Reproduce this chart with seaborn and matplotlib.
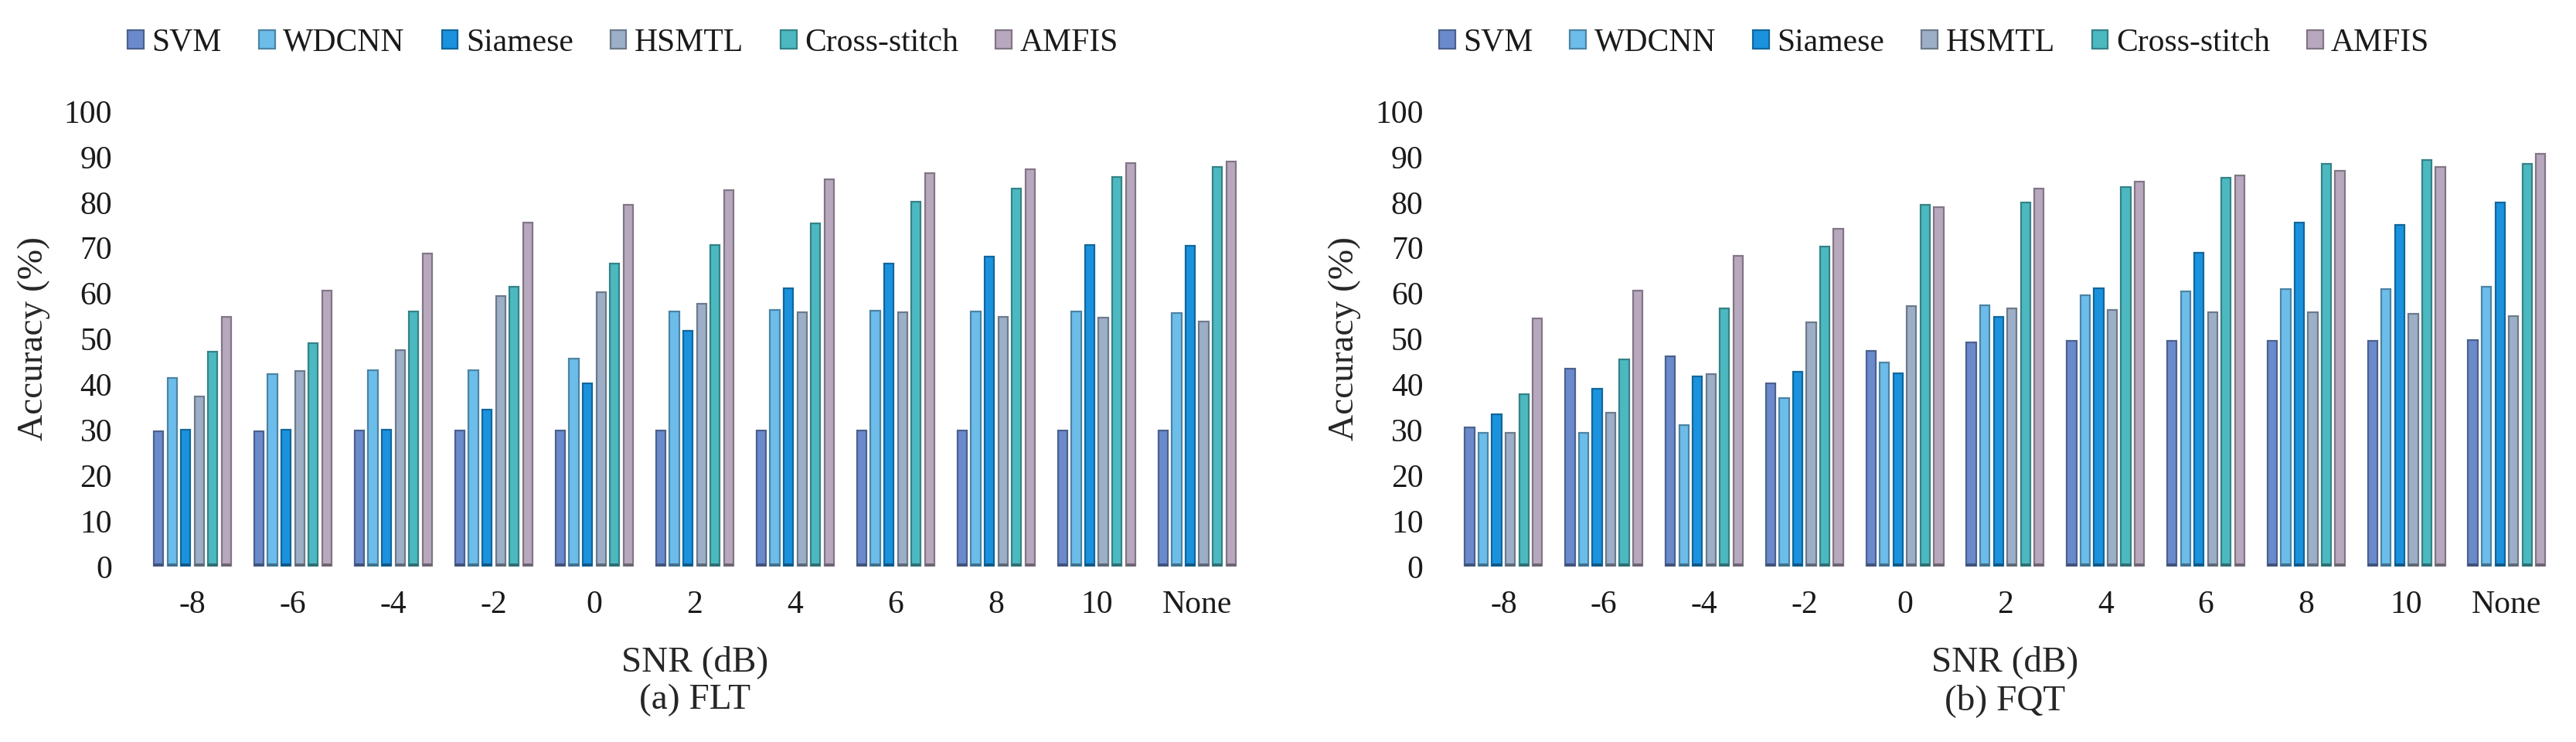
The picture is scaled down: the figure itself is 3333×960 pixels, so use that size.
import numpy as np
import pandas as pd
import seaborn as sns
import matplotlib.pyplot as plt
import matplotlib.colors as mcolors
from matplotlib.patches import Rectangle

snr_levels = ["-8", "-6", "-4", "-2", "0", "2", "4", "6", "8", "10", "None"]
methods = ["SVM", "WDCNN", "Siamese", "HSMTL", "Cross-stitch", "AMFIS"]
method_colors = ["#6B8ACB", "#6CBDEA", "#1A92DE", "#9CAFC7", "#4CB9C1", "#B8A8BE"]

# (a) FLT
flt_svm = [29.7, 29.7, 29.8, 29.8, 29.8, 29.8, 29.8, 29.8, 29.8, 29.8, 29.8]
flt_wdcnn = [41.4, 42.2, 43.1, 43.1, 45.6, 56.1, 56.4, 56.2, 56.0, 56.0, 55.7]
flt_siamese = [30.1, 30.1, 30.0, 34.4, 40.2, 51.7, 61.1, 66.5, 68.1, 70.6, 70.4]
flt_hsmtl = [37.3, 43.0, 47.6, 59.5, 60.3, 57.8, 55.8, 55.8, 54.9, 54.6, 53.9]
flt_cross = [47.2, 49.0, 56.0, 61.5, 66.6, 70.7, 75.3, 80.1, 83.1, 85.5, 87.7]
flt_amfis = [54.8, 60.6, 68.7, 75.6, 79.5, 82.7, 85.1, 86.5, 87.2, 88.6, 88.9]

# (b) FQT
fqt_svm = [30.5, 43.5, 46.1, 40.3, 47.3, 49.2, 49.5, 49.5, 49.5, 49.5, 49.7]
fqt_wdcnn = [29.4, 29.4, 31.0, 37.0, 44.8, 57.4, 59.6, 60.4, 60.9, 60.9, 61.4]
fqt_siamese = [33.5, 39.1, 41.7, 42.7, 42.5, 54.9, 61.1, 69.0, 75.6, 75.0, 79.9]
fqt_hsmtl = [29.4, 33.8, 42.2, 53.6, 57.2, 56.7, 56.3, 55.9, 55.9, 55.5, 55.0]
fqt_cross = [37.9, 45.5, 56.7, 70.3, 79.5, 80.0, 83.4, 85.4, 88.4, 89.3, 88.4]
fqt_amfis = [54.5, 60.6, 68.3, 74.2, 79.0, 83.1, 84.6, 85.9, 86.9, 87.7, 90.6]

panels = [
    ("(a) FLT", [flt_svm, flt_wdcnn, flt_siamese, flt_hsmtl, flt_cross, flt_amfis]),
    ("(b) FQT", [fqt_svm, fqt_wdcnn, fqt_siamese, fqt_hsmtl, fqt_cross, fqt_amfis]),
]


def to_frame(series):
    rows = []
    for name, vals in zip(methods, series):
        for snr, v in zip(snr_levels, vals):
            rows.append({"SNR": snr, "Method": name, "Accuracy": v})
    return pd.DataFrame(rows)


def darker(c, f=0.7):
    r, g, b = mcolors.to_rgb(c)
    return (r * f, g * f, b * f)


sns.set_style("white")
plt.rcParams["font.family"] = ["Liberation Serif", "DejaVu Serif"]
plt.rcParams["text.color"] = "#1a1a1a"

fig = plt.figure(figsize=(33.33, 9.6), dpi=100)
axes_pos = [
    [0.0552, 0.2365, 0.4290, 0.6135],
    [0.5642, 0.2365, 0.4284, 0.6135],
]

for (title, series), pos in zip(panels, axes_pos):
    ax = fig.add_axes(pos)
    df = to_frame(series)
    sns.barplot(
        data=df, x="SNR", y="Accuracy", hue="Method",
        order=snr_levels, hue_order=methods, palette=method_colors,
        saturation=1, width=0.81, gap=0.3, ax=ax, linewidth=1.6,
    )
    bars = list(ax.patches)
    for p in bars:
        fc = p.get_facecolor()
        p.set_edgecolor(darker(fc))
        # dark base cap like the excel 3d bars
        ax.add_patch(Rectangle((p.get_x(), 0), p.get_width(), 0.7,
                               facecolor=darker(fc, 0.6), edgecolor="none"))

    ax.set_ylim(0, 100)
    ax.set_xlim(-0.5, len(snr_levels) - 0.5)
    ax.set_yticks(range(0, 101, 10))
    ax.tick_params(axis="both", length=0, labelsize=30, colors="#1a1a1a")
    ax.tick_params(axis="y", pad=28)
    ax.tick_params(axis="x", pad=22)
    ax.set_ylabel("Accuracy (%)", fontsize=34, labelpad=13)
    ax.set_xlabel("SNR (dB)\n" + title, fontsize=34, labelpad=24, linespacing=1.2)
    sns.despine(ax=ax, left=True, bottom=True)

    handles, labels = ax.get_legend_handles_labels()
    for h in handles:
        h.set_edgecolor(darker(h.get_facecolor()))
    ax.legend(
        handles, labels, ncol=6, loc="center left",
        bbox_to_anchor=(-0.013, 1.15), frameon=False, fontsize=30,
        handlelength=0.5, handleheight=0.5, handletextpad=0.25,
        columnspacing=1.15, borderpad=0, borderaxespad=0,
    )

fig.savefig("out.png", dpi=100, facecolor="white")
